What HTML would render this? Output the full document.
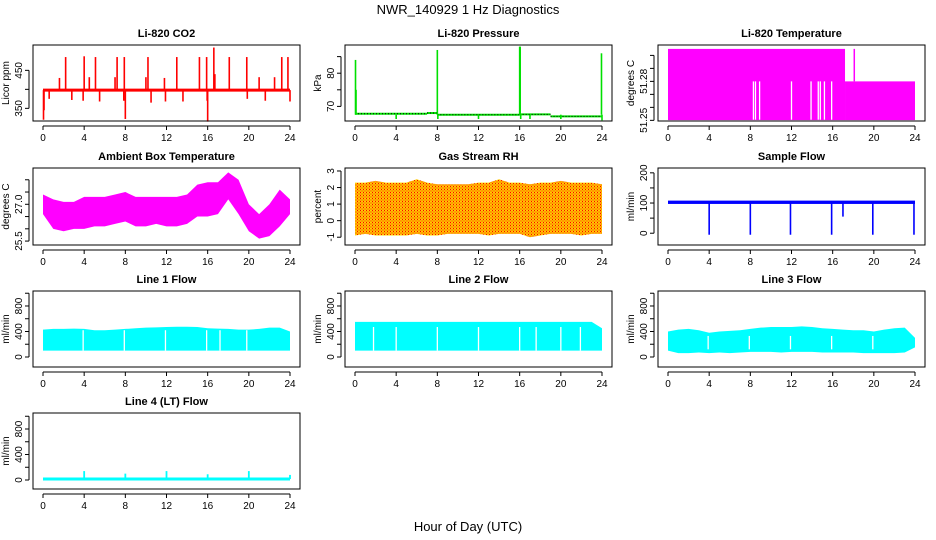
<!DOCTYPE html>
<html><head><meta charset="utf-8"><style>
html,body{margin:0;padding:0;background:#fff;}
svg{display:block;font-family:"Liberation Sans",Arial,sans-serif;}
</style></head><body>
<svg id="c" width="936" height="540" xmlns="http://www.w3.org/2000/svg">
<defs>
<pattern id="rhpat" width="3" height="3" patternUnits="userSpaceOnUse">
<rect width="3" height="3" fill="#ffd000"/><rect x="0" y="0" width="1" height="1" fill="#f00"/><rect x="1.5" y="1.5" width="1" height="1" fill="#f00"/><rect x="0" y="1.5" width="1" height="1" fill="#ff9000"/>
</pattern>
</defs>
<text x="468" y="14" font-size="13" text-anchor="middle">NWR_140929  1 Hz Diagnostics</text>
<text x="468" y="531" font-size="13" text-anchor="middle">Hour of Day (UTC)</text>
</svg>
<script>
// ---- data ----
const hours = [0,1,2,3,4,5,6,7,8,9,10,11,12,13,14,15,16,17,18,19,20,21,22,23,24];
const co2Base = 398;
const co2SpikeHours = [2.2,4.0,5.1,7.2,7.9,10.2,13.0,15.2,15.9,16.6,18.1,19.8,23.2,23.8,1.6,4.5,7.0,10.0,11.8,16.7,21.0,22.5,0.05,0.1,0.6,2.8,3.9,5.5,7.85,8.0,10.5,11.9,13.6,15.95,16.0,19.85,21.6,24.0];
const co2SpikeValues = [485,487,485,485,485,485,485,485,485,510,485,485,485,485,430,432,432,432,430,440,432,432,320,345,375,372,370,368,370,322,365,368,368,370,315,375,370,368];
const presSegStart = [0,7,8,16,19];
const presSegEnd = [7,8,16,19,24];
const presSegValue = [67.8,68.0,67.5,67.6,67.0];
const presSpikeHours = [0.05,0.1,8.0,16.0,16.05,23.95,4,8.05,12,16.1,17,20,24];
const presSpikeValues = [84,75,87,88,88,86,66.2,66.2,66.2,66.2,66.2,66.2,65.8];
const ltSegStart = [0,17.2];
const ltSegEnd = [17.2,24];
const ltSegValue = [51.305,51.28];
const ltSpikeHours = [18.1];
const ltSpikeValues = [51.305];
const ltGapHours = [8.3,8.5,8.9,12.0,13.9,14.6,14.8,15.2,15.9];
const ambUpper = [27.4,27.2,27.1,27.1,27.3,27.3,27.3,27.4,27.5,27.3,27.3,27.3,27.3,27.3,27.4,27.8,27.9,27.9,28.3,28.0,27.0,26.6,27.0,27.6,27.2];
const ambLower = [26.6,26.0,25.9,26.0,26.0,26.1,26.1,26.2,26.3,26.1,26.1,26.2,26.1,26.1,26.2,26.5,26.5,26.6,27.2,26.6,25.9,25.6,25.7,26.1,26.6];
const rhUpper = [2.3,2.3,2.4,2.3,2.3,2.3,2.5,2.3,2.2,2.2,2.2,2.2,2.3,2.3,2.5,2.3,2.3,2.2,2.3,2.3,2.4,2.3,2.3,2.3,2.2];
const rhLower = [-0.9,-0.8,-0.9,-0.9,-0.9,-0.9,-0.8,-0.9,-0.9,-0.8,-0.8,-0.8,-0.8,-0.9,-0.8,-0.8,-0.8,-1.0,-0.9,-0.8,-0.8,-0.8,-0.9,-0.8,-0.8];
const sfBase = 102;
const sfDipHours = [4.0,8.0,11.9,15.9,17.0,19.9,23.9];
const sfDipValues = [-5,-5,-5,-5,55,-5,-5];
const l1Upper = [430,440,440,445,440,420,420,430,440,450,460,465,470,475,475,470,450,445,440,430,430,440,460,460,400];
const l1Lower = [100,100,100,100,100,100,100,100,100,100,100,100,100,100,100,100,100,100,100,100,100,100,100,100,100];
const l1GapHours = [3.9,7.9,11.9,15.9,17.2,19.8];
const l2Upper = [550,550,550,550,550,550,550,550,550,550,550,550,550,550,550,550,550,550,550,550,550,550,550,550,450];
const l2Lower = [100,100,100,100,100,100,100,100,100,100,100,100,100,100,100,100,100,100,100,100,100,100,100,100,100];
const l2GapHours = [1.8,4.0,8.0,12.0,16.0,17.6,20.0,21.9];
const l3Upper = [400,430,440,420,380,400,410,420,440,460,470,470,470,480,470,450,440,430,420,420,400,430,450,460,300];
const l3Lower = [100,60,60,70,60,70,60,70,80,80,80,70,80,80,80,70,70,70,70,60,60,60,60,70,150];
const l3GapHours = [3.9,7.9,11.9,15.9,19.9];
const l4Base = 15;
const l4SpikeHours = [4.0,8.0,12.0,16.0,20.0,24.0];
const l4SpikeValues = [140,100,140,90,140,80];

// ---- layout ----
const NS="http://www.w3.org/2000/svg";
const svg=document.getElementById('c');
const colL=[33,345,658], W=267;
const rowT=[45,168,291,413], rowB=[121,245,367,489];
function el(tag,attrs,parent){const e=document.createElementNS(NS,tag);for(const k in attrs)e.setAttribute(k,attrs[k]);(parent||svg).appendChild(e);return e;}

function panel(name,col,row,title,ylab,ylim,ticks,labels,dec){
  const g=el('g',{});
  
  
  const L=colL[col],T=rowT[row],B=rowB[row];
  const sx=h=>L+10+h/24*247;
  const sy=v=>B-(v-ylim[0])/(ylim[1]-ylim[0])*(B-T);
  const p={g,sx,sy,L,T,B};
  const t=el('text',{x:L+W/2,y:T-8,'font-size':11,'font-weight':'bold','text-anchor':'middle'},g);
  t.textContent=title;
  
  
  const xa=el('g',{},g);
  
  
  el('line',{x1:sx(0),x2:sx(24),y1:B+5,y2:B+5,stroke:'#000'},xa);
  for(let h=0;h<=24;h+=4){
    el('line',{x1:sx(h),x2:sx(h),y1:B+5,y2:B+9,stroke:'#000'},xa);
    const tx=el('text',{x:sx(h),y:B+20,'font-size':10,'text-anchor':'middle'},xa);tx.textContent=h;
  }
  const ya=el('g',{},g);
  
  
  el('line',{x1:L-4,x2:L-4,y1:sy(ticks[0]),y2:sy(ticks[ticks.length-1]),stroke:'#000'},ya);
  ticks.forEach(v=>{
    el('line',{x1:L-4,x2:L-8,y1:sy(v),y2:sy(v),stroke:'#000'},ya);
    if(labels.includes(v)){
      const y=sy(v);
      const tx=el('text',{x:L-11,y:y,'font-size':10,'text-anchor':'middle',transform:`rotate(-90 ${L-11} ${y})`},ya);
      tx.textContent=dec?v.toFixed(dec):String(v);
    }
  });
  const yl=el('text',{x:L-24,y:(T+B)/2,'font-size':10,'text-anchor':'middle',transform:`rotate(-90 ${L-24} ${(T+B)/2})`},g);
  yl.textContent=ylab;
  
  
  p.plot=el('g',{},g);
  
  
  p.finish=()=>{const r=el('rect',{x:L,y:T,width:W,height:B-T,fill:'none',stroke:'#000'},g);
    
    };
  return p;
}
function band(p,up,lo,color){
  let pts=hours.map((h,i)=>p.sx(h)+','+p.sy(up[i]));
  pts=pts.concat(hours.slice().reverse().map((h,j)=>p.sx(h)+','+p.sy(lo[hours.length-1-j])));
  const e=el('polygon',{points:pts.join(' '),fill:color},p.plot);
  
  
}
function vline(p,h,v0,v1,color,w){
  const e=el('line',{x1:p.sx(h),x2:p.sx(h),y1:p.sy(v0),y2:p.sy(v1),stroke:color,'stroke-width':w||1.5},p.plot);
  
  
}
function gaps(p,hs,v0,v1){hs.forEach(h=>vline(p,h,v0,v1,'#fff',1.3));}

let p=panel('co2',0,0,'Li-820 CO2','Licor ppm',[316.7,516.7],[350,400,450],[350,450]);
el('line',{x1:p.sx(0),x2:p.sx(24),y1:p.sy(co2Base),y2:p.sy(co2Base),stroke:'#f00','stroke-width':3},p.plot);
co2SpikeHours.forEach((h,i)=>vline(p,h,co2Base,co2SpikeValues[i],'#f00',1.6));
p.finish();
p=panel('pressure',1,0,'Li-820 Pressure','kPa',[65.6,88.5],[70,75,80,85],[70,80]);
presSegStart.forEach((s,i)=>{el('line',{x1:p.sx(s),x2:p.sx(presSegEnd[i]),y1:p.sy(presSegValue[i]),y2:p.sy(presSegValue[i]),stroke:'#00e000','stroke-width':2},p.plot);
 el('line',{x1:p.sx(s),x2:p.sx(presSegEnd[i]),y1:p.sy(presSegValue[i]),y2:p.sy(presSegValue[i]),stroke:'#000','stroke-width':1,'stroke-dasharray':'1 2'},p.plot);});
presSpikeHours.forEach((h,i)=>vline(p,h,67.5,presSpikeValues[i],'#00e000',1.6));
p.finish();
p=panel('li820-temp',2,0,'Li-820 Temperature','degrees C',[51.2495,51.308],[51.25,51.26,51.27,51.28,51.29,51.30],[51.25,51.28],2);
ltSegStart.forEach((s,i)=>{el('rect',{x:p.sx(s),y:p.sy(ltSegValue[i]),width:p.sx(ltSegEnd[i])-p.sx(s),height:p.sy(51.2502)-p.sy(ltSegValue[i]),fill:'#f0f'},p.plot);});
ltSpikeHours.forEach((h,i)=>vline(p,h,51.28,ltSpikeValues[i],'#f0f',1.5));
gaps(p,ltGapHours,51.2505,51.28);
p.finish();
p=panel('ambient-temp',0,1,'Ambient Box Temperature','degrees C',[25.34,28.48],[25.5,26,26.5,27,27.5,28],[25.5,27.0],1);
band(p,ambUpper,ambLower,'#f0f');
p.finish();
p=panel('gas-rh',1,1,'Gas Stream RH','percent',[-1.47,3.18],[-1,0,1,2,3],[-1,0,1,2,3]);
band(p,rhUpper,rhLower,'url(#rhpat)');
p.finish();
p=panel('sample-flow',2,1,'Sample Flow','ml/min',[-39,216],[0,50,100,150,200],[0,100,200]);
el('rect',{x:p.sx(0),y:p.sy(108),width:p.sx(24)-p.sx(0),height:p.sy(97)-p.sy(108),fill:'#00f'},p.plot);
sfDipHours.forEach((h,i)=>vline(p,h,sfBase,sfDipValues[i],'#00f',1.6));
p.finish();
const ft=[0,200,400,600,800,1000], fl=[0,400,800];
p=panel('line1-flow',0,2,'Line 1 Flow','ml/min',[-157,1035],ft,fl);
band(p,l1Upper,l1Lower,'#0ff');gaps(p,l1GapHours,100,420);p.finish();
p=panel('line2-flow',1,2,'Line 2 Flow','ml/min',[-157,1035],ft,fl);
band(p,l2Upper,l2Lower,'#0ff');gaps(p,l2GapHours,100,470);p.finish();
p=panel('line3-flow',2,2,'Line 3 Flow','ml/min',[-157,1035],ft,fl);
band(p,l3Upper,l3Lower,'#0ff');gaps(p,l3GapHours,120,330);p.finish();
p=panel('line4-flow',0,3,'Line 4 (LT) Flow','ml/min',[-141,1051],ft,fl);
el('line',{x1:p.sx(0),x2:p.sx(24),y1:p.sy(l4Base),y2:p.sy(l4Base),stroke:'#0ff','stroke-width':3},p.plot);
l4SpikeHours.forEach((h,i)=>vline(p,h,l4Base,l4SpikeValues[i],'#0ff',1.8));
p.finish();
</script>
</body></html>
